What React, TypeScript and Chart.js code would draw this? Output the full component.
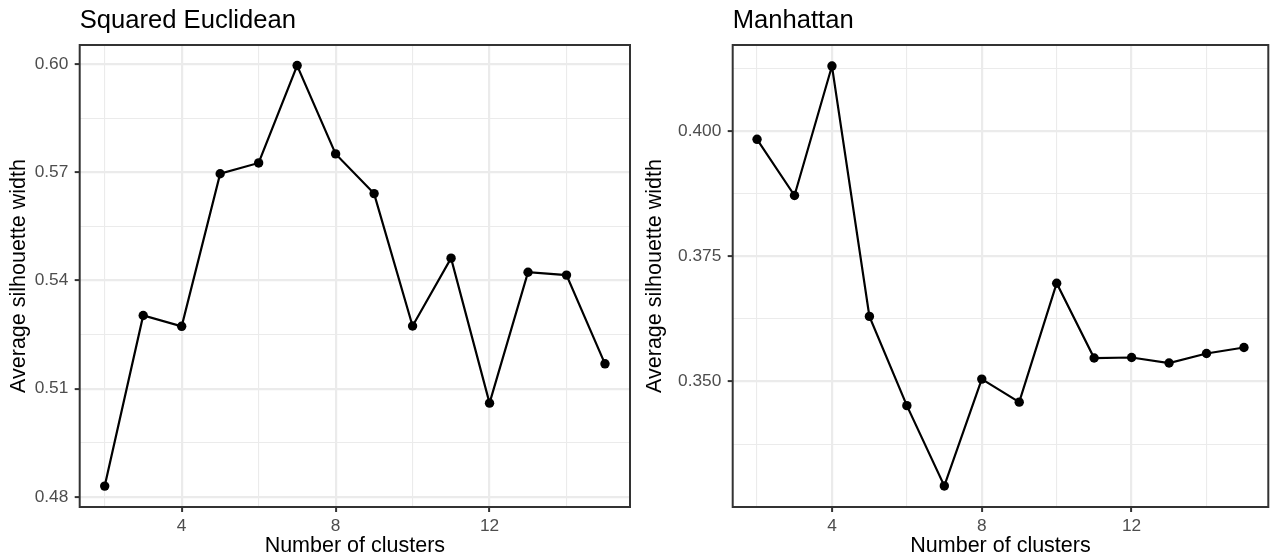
import React, { useEffect, useRef } from "react";
import { Chart, registerables } from "chart.js";

Chart.register(...registerables);

// ---- data ----
const clusters = [2, 3, 4, 5, 6, 7, 8, 9, 10, 11, 12, 13, 14, 15];
const euclideanWidth = [0.483, 0.5303, 0.5273, 0.5696, 0.5726, 0.5996, 0.5751, 0.5641, 0.5274, 0.5462, 0.506, 0.5423, 0.5415, 0.5169];
const manhattanWidth = [0.3983, 0.3871, 0.4129, 0.363, 0.3452, 0.3292, 0.3505, 0.3459, 0.3696, 0.3547, 0.3548, 0.3537, 0.3556, 0.3568];

const xTicks = [2, 4, 6, 8, 10, 12, 14];
const xMajorTicks = [4, 8, 12];

const euclidYTicks = [0.48, 0.495, 0.51, 0.525, 0.54, 0.555, 0.57, 0.585, 0.6];
const euclidYMajor = [0.48, 0.51, 0.54, 0.57, 0.6];

const manhattanYTicks = [0.3375, 0.35, 0.3625, 0.375, 0.3875, 0.4, 0.4125];
const manhattanYMajor = [0.35, 0.375, 0.4];

const titles = ["Squared Euclidean", "Manhattan"];
const xTitle = "Number of clusters";
const yTitle = "Average silhouette width";

const FONT = '"Liberation Sans", Arial, Helvetica, sans-serif';

const isIn = (arr: number[], v: number) => arr.some((m) => Math.abs(m - v) < 1e-9);

function panelPlugin(title: string) {
  return {
    id: "panelDecor",
    afterDraw(chart: any) {
      const { ctx, chartArea: a } = chart;
      ctx.save();
      ctx.strokeStyle = "#333333";
      ctx.lineWidth = 2;
      ctx.strokeRect(a.left, a.top, a.right - a.left, a.bottom - a.top);
      ctx.fillStyle = "#000000";
      ctx.font = `25.6px ${FONT}`;
      ctx.textAlign = "left";
      ctx.textBaseline = "alphabetic";
      ctx.fillText(title, a.left, 27.5);
      ctx.restore();
    },
  };
}

function makeConfig(
  title: string,
  values: number[],
  yMin: number,
  yMax: number,
  yTicks: number[],
  yMajor: number[],
  decimals: number,
  yAxisWidth: number,
  padRight: number
): any {
  return {
    type: "line",
    data: {
      datasets: [
        {
          data: clusters.map((c, i) => ({ x: c, y: values[i] })),
          borderColor: "#000000",
          backgroundColor: "#000000",
          borderWidth: 2.2,
          pointRadius: 4.7,
          pointBorderWidth: 0,
          pointBackgroundColor: "#000000",
          tension: 0,
          fill: false,
        },
      ],
    },
    options: {
      animation: false,
      responsive: false,
      maintainAspectRatio: false,
      layout: { padding: { top: 45, right: padRight, bottom: 0, left: 0 } },
      plugins: {
        legend: { display: false },
        tooltip: { enabled: false },
        title: { display: false },
      },
      scales: {
        x: {
          type: "linear",
          position: "bottom",
          min: 1.35,
          max: 15.65,
          afterBuildTicks: (s: any) => {
            s.ticks = xTicks.map((v) => ({ value: v }));
          },
          afterFit: (s: any) => {
            s.height = 52;
          },
          ticks: {
            autoSkip: false,
            maxRotation: 0,
            padding: 4,
            color: "#4D4D4D",
            font: { family: FONT, size: 17.3 },
            callback: (v: number) => (isIn(xMajorTicks, v) ? String(v) : ""),
          },
          grid: {
            drawOnChartArea: true,
            color: "#EBEBEB",
            lineWidth: (c: any) => (c.tick && isIn(xMajorTicks, c.tick.value) ? 2.2 : 1.1),
            tickLength: 5,
            tickWidth: 2,
            tickColor: (c: any) => (c.tick && isIn(xMajorTicks, c.tick.value) ? "#333333" : "rgba(0,0,0,0)"),
          },
          border: { display: false },
          title: {
            display: true,
            text: xTitle,
            color: "#000000",
            font: { family: FONT, size: 21.5, lineHeight: 1.1 },
            padding: { top: 0, bottom: 0.6 },
          },
        },
        y: {
          type: "linear",
          min: yMin,
          max: yMax,
          afterBuildTicks: (s: any) => {
            s.ticks = yTicks.map((v) => ({ value: v }));
          },
          afterFit: (s: any) => {
            s.width = yAxisWidth;
          },
          ticks: {
            autoSkip: false,
            padding: 6.4,
            color: "#4D4D4D",
            font: { family: FONT, size: 17.3 },
            callback: (v: number) => (isIn(yMajor, v) ? v.toFixed(decimals) : ""),
          },
          grid: {
            drawOnChartArea: true,
            color: "#EBEBEB",
            lineWidth: (c: any) => (c.tick && isIn(yMajor, c.tick.value) ? 2.2 : 1.1),
            tickLength: 5,
            tickWidth: 2,
            tickColor: (c: any) => (c.tick && isIn(yMajor, c.tick.value) ? "#333333" : "rgba(0,0,0,0)"),
          },
          border: { display: false },
          title: {
            display: true,
            text: yTitle,
            color: "#000000",
            font: { family: FONT, size: 21.5, lineHeight: 1.2 },
            padding: { top: 6.4, bottom: 0 },
          },
        },
      },
    },
    plugins: [panelPlugin(title)],
  };
}

function Panel(props: { config: any; width: number; height: number }) {
  const ref = useRef<HTMLCanvasElement | null>(null);
  useEffect(() => {
    if (!ref.current) return;
    const chart = new Chart(ref.current, props.config);
    return () => chart.destroy();
  }, []);
  return (
    <canvas
      ref={ref}
      width={props.width}
      height={props.height}
      style={{ display: "block", width: props.width, height: props.height }}
    />
  );
}

export default function App() {
  const left = makeConfig(titles[0], euclideanWidth, 0.4772, 0.6053, euclidYTicks, euclidYMajor, 2, 79.7, 6);
  const right = makeConfig(titles[1], manhattanWidth, 0.325, 0.4171, manhattanYTicks, manhattanYMajor, 3, 96.7, 1);
  return (
    <div
      style={{
        position: "fixed",
        left: 0,
        top: 0,
        width: 1273,
        height: 559,
        display: "flex",
        background: "#ffffff",
      }}
    >
      <Panel config={left} width={636} height={559} />
      <Panel config={right} width={637} height={559} />
    </div>
  );
}
